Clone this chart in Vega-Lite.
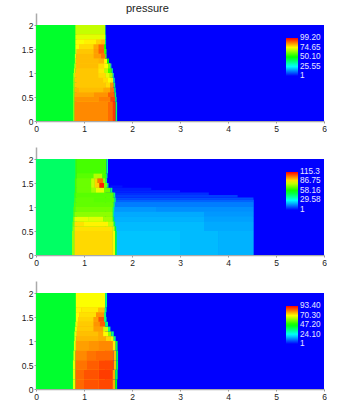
{"$schema":"https://vega.github.io/schema/vega-lite/v6.json","padding":{"left":0,"top":3,"right":0,"bottom":0},"background":"white","resolve":{"scale":{"color":"independent"},"legend":{"color":"independent"}},"config":{"view":{"stroke":null},"font":"Liberation Sans","concat":{"spacing":14},"axis":{"grid":false,"domainColor":"#aaa","domainWidth":1.5,"tickColor":"#999","tickSize":2,"labelFont":"Liberation Sans","labelFontSize":8.5,"labelColor":"#222","labelPadding":1,"labelFlush":false,"title":null},"legend":{"orient":"none","legendX":250,"legendY":25,"gradientLength":38,"gradientThickness":12,"labelFont":"Liberation Sans","labelFontSize":8.2,"labelColor":"#e8e8ff","labelOverlap":false,"labelOffset":7,"gradientStrokeWidth":0,"title":null,"padding":0,"offset":0}},"datasets":{"d":[
{"p":1,"a":0,"b":6,"c":0,"d":2,"v":1},{"p":1,"a":0,"b":0.84,"c":0,"d":2,"v":46},{"p":1,"a":0.84,"b":1.44,"c":0,"d":2,"v":80},{"p":1,"a":1.44,"b":1.55,"c":0,"d":1.2,"v":80},{"p":1,"a":1.55,"b":1.6,"c":0,"d":0.9,"v":85},
{"p":1,"a":0.78,"b":0.8,"c":0,"d":0.4,"v":70},{"p":1,"a":0.8,"b":1.5,"c":0,"d":0.4,"v":86},{"p":1,"a":1.5,"b":1.6,"c":0,"d":0.4,"v":89},{"p":1,"a":1.6,"b":1.66,"c":0,"d":0.4,"v":94},{"p":1,"a":1.66,"b":1.69,"c":0,"d":0.4,"v":40},
{"p":1,"a":0.78,"b":0.8,"c":0.4,"d":0.5,"v":70},{"p":1,"a":0.8,"b":1.3,"c":0.4,"d":0.5,"v":85},{"p":1,"a":1.3,"b":1.55,"c":0.4,"d":0.5,"v":87},{"p":1,"a":1.55,"b":1.65,"c":0.4,"d":0.5,"v":93},{"p":1,"a":1.65,"b":1.68,"c":0.4,"d":0.5,"v":40},
{"p":1,"a":0.78,"b":0.8,"c":0.5,"d":0.6,"v":70},{"p":1,"a":0.8,"b":1.2,"c":0.5,"d":0.6,"v":83},{"p":1,"a":1.2,"b":1.5,"c":0.5,"d":0.6,"v":85},{"p":1,"a":1.5,"b":1.64,"c":0.5,"d":0.6,"v":90},{"p":1,"a":1.64,"b":1.67,"c":0.5,"d":0.6,"v":40},
{"p":1,"a":0.78,"b":0.8,"c":0.6,"d":0.7,"v":70},{"p":1,"a":0.8,"b":0.9,"c":0.6,"d":0.7,"v":82},{"p":1,"a":0.9,"b":1.4,"c":0.6,"d":0.7,"v":81},{"p":1,"a":1.4,"b":1.55,"c":0.6,"d":0.7,"v":83},{"p":1,"a":1.55,"b":1.63,"c":0.6,"d":0.7,"v":88},{"p":1,"a":1.63,"b":1.66,"c":0.6,"d":0.7,"v":40},
{"p":1,"a":0.78,"b":0.8,"c":0.7,"d":0.8,"v":70},{"p":1,"a":0.8,"b":1.45,"c":0.7,"d":0.8,"v":80},{"p":1,"a":1.45,"b":1.55,"c":0.7,"d":0.8,"v":78},{"p":1,"a":1.55,"b":1.62,"c":0.7,"d":0.8,"v":85},{"p":1,"a":1.62,"b":1.65,"c":0.7,"d":0.8,"v":40},
{"p":1,"a":0.78,"b":0.8,"c":0.8,"d":0.9,"v":70},{"p":1,"a":0.8,"b":1.4,"c":0.8,"d":0.9,"v":80},{"p":1,"a":1.4,"b":1.5,"c":0.8,"d":0.9,"v":78},{"p":1,"a":1.5,"b":1.58,"c":0.8,"d":0.9,"v":74},{"p":1,"a":1.58,"b":1.61,"c":0.8,"d":0.9,"v":76},{"p":1,"a":1.61,"b":1.64,"c":0.8,"d":0.9,"v":35},
{"p":1,"a":0.78,"b":0.81,"c":0.9,"d":1,"v":70},{"p":1,"a":0.81,"b":1.3,"c":0.9,"d":1,"v":80},{"p":1,"a":1.3,"b":1.45,"c":0.9,"d":1,"v":78},{"p":1,"a":1.45,"b":1.53,"c":0.9,"d":1,"v":72},{"p":1,"a":1.53,"b":1.6,"c":0.9,"d":1,"v":66},{"p":1,"a":1.6,"b":1.62,"c":0.9,"d":1,"v":35},
{"p":1,"a":0.79,"b":0.82,"c":1,"d":1.1,"v":70},{"p":1,"a":0.82,"b":1.3,"c":1,"d":1.1,"v":80},{"p":1,"a":1.3,"b":1.42,"c":1,"d":1.1,"v":77},{"p":1,"a":1.42,"b":1.5,"c":1,"d":1.1,"v":68},{"p":1,"a":1.5,"b":1.58,"c":1,"d":1.1,"v":56},{"p":1,"a":1.58,"b":1.6,"c":1,"d":1.1,"v":35},
{"p":1,"a":0.8,"b":0.83,"c":1.1,"d":1.2,"v":70},{"p":1,"a":0.83,"b":1.3,"c":1.1,"d":1.2,"v":81},{"p":1,"a":1.3,"b":1.42,"c":1.1,"d":1.2,"v":78},{"p":1,"a":1.42,"b":1.5,"c":1.1,"d":1.2,"v":74},{"p":1,"a":1.5,"b":1.55,"c":1.1,"d":1.2,"v":62},{"p":1,"a":1.55,"b":1.57,"c":1.1,"d":1.2,"v":35},
{"p":1,"a":0.81,"b":0.83,"c":1.2,"d":1.3,"v":72},{"p":1,"a":0.83,"b":1.3,"c":1.2,"d":1.3,"v":81},{"p":1,"a":1.3,"b":1.42,"c":1.2,"d":1.3,"v":82},{"p":1,"a":1.42,"b":1.48,"c":1.2,"d":1.3,"v":75},{"p":1,"a":1.48,"b":1.52,"c":1.2,"d":1.3,"v":50},
{"p":1,"a":0.81,"b":0.84,"c":1.3,"d":1.4,"v":72},{"p":1,"a":0.84,"b":1.2,"c":1.3,"d":1.4,"v":81},{"p":1,"a":1.2,"b":1.35,"c":1.3,"d":1.4,"v":84},{"p":1,"a":1.35,"b":1.44,"c":1.3,"d":1.4,"v":88},{"p":1,"a":1.44,"b":1.47,"c":1.3,"d":1.4,"v":60},
{"p":1,"a":0.82,"b":0.85,"c":1.4,"d":1.5,"v":72},{"p":1,"a":0.85,"b":1.2,"c":1.4,"d":1.5,"v":80},{"p":1,"a":1.2,"b":1.3,"c":1.4,"d":1.5,"v":84},{"p":1,"a":1.3,"b":1.42,"c":1.4,"d":1.5,"v":90},{"p":1,"a":1.42,"b":1.47,"c":1.4,"d":1.5,"v":55},
{"p":1,"a":0.82,"b":0.9,"c":1.5,"d":1.6,"v":74},{"p":1,"a":0.9,"b":1.2,"c":1.5,"d":1.6,"v":78},{"p":1,"a":1.2,"b":1.3,"c":1.5,"d":1.6,"v":83},{"p":1,"a":1.3,"b":1.42,"c":1.5,"d":1.6,"v":89},{"p":1,"a":1.42,"b":1.46,"c":1.5,"d":1.6,"v":50},
{"p":1,"a":0.82,"b":1,"c":1.6,"d":1.7,"v":74},{"p":1,"a":1,"b":1.25,"c":1.6,"d":1.7,"v":76},{"p":1,"a":1.25,"b":1.35,"c":1.6,"d":1.7,"v":79},{"p":1,"a":1.35,"b":1.44,"c":1.6,"d":1.7,"v":81},{"p":1,"a":1.44,"b":1.46,"c":1.6,"d":1.7,"v":40},
{"p":1,"a":0.82,"b":1.44,"c":1.7,"d":1.8,"v":72},{"p":1,"a":1.44,"b":1.46,"c":1.7,"d":1.8,"v":40},
{"p":1,"a":0.82,"b":1.44,"c":1.8,"d":2,"v":69},{"p":1,"a":1.44,"b":1.45,"c":1.8,"d":2,"v":40},

{"p":2,"a":0,"b":6,"c":0,"d":2,"v":1},{"p":2,"a":0,"b":0.84,"c":0,"d":2,"v":47},{"p":2,"a":1.6,"b":4.53,"c":0,"d":1.15,"v":19},{"p":2,"a":0.84,"b":1.45,"c":0,"d":2,"v":70},{"p":2,"a":1.45,"b":1.6,"c":0,"d":1.3,"v":70},
{"p":2,"a":1.65,"b":3,"c":0,"d":0.5,"v":23},{"p":2,"a":3,"b":3.8,"c":0,"d":0.5,"v":22},{"p":2,"a":3.8,"b":4.53,"c":0,"d":0.5,"v":21},
{"p":2,"a":1.65,"b":3.5,"c":0.5,"d":0.7,"v":22},{"p":2,"a":3.5,"b":4.53,"c":0.5,"d":0.7,"v":20},
{"p":2,"a":1.65,"b":3.5,"c":0.7,"d":0.8,"v":21},{"p":2,"a":3.5,"b":4.53,"c":0.7,"d":0.8,"v":19},
{"p":2,"a":1.6,"b":3.5,"c":0.8,"d":0.9,"v":20},{"p":2,"a":3.5,"b":4.53,"c":0.8,"d":0.9,"v":18},
{"p":2,"a":1.6,"b":2.5,"c":0.9,"d":1,"v":18},{"p":2,"a":2.5,"b":4.53,"c":0.9,"d":1,"v":17},
{"p":2,"a":1.6,"b":4.53,"c":1,"d":1.1,"v":15},
{"p":2,"a":1.6,"b":4.53,"c":1.1,"d":1.15,"v":12},
{"p":2,"a":1.6,"b":4.53,"c":1.15,"d":1.2,"v":10},
{"p":2,"a":1.6,"b":4.2,"c":1.2,"d":1.25,"v":8},
{"p":2,"a":1.6,"b":3.6,"c":1.25,"d":1.3,"v":6},
{"p":2,"a":1.6,"b":3,"c":1.3,"d":1.35,"v":5},
{"p":2,"a":1.55,"b":2.4,"c":1.35,"d":1.4,"v":4},
{"p":2,"a":1.55,"b":1.8,"c":1.4,"d":1.45,"v":3},
{"p":2,"a":0.75,"b":0.8,"c":0,"d":0.5,"v":75},{"p":2,"a":0.8,"b":1.6,"c":0,"d":0.5,"v":91},{"p":2,"a":1.6,"b":1.65,"c":0,"d":0.5,"v":85},{"p":2,"a":1.65,"b":1.68,"c":0,"d":0.5,"v":55},
{"p":2,"a":0.76,"b":0.8,"c":0.5,"d":0.6,"v":75},{"p":2,"a":0.8,"b":1.6,"c":0.5,"d":0.6,"v":90},{"p":2,"a":1.6,"b":1.64,"c":0.5,"d":0.6,"v":82},{"p":2,"a":1.64,"b":1.67,"c":0.5,"d":0.6,"v":55},
{"p":2,"a":0.76,"b":0.8,"c":0.6,"d":0.7,"v":72},{"p":2,"a":0.8,"b":1,"c":0.6,"d":0.7,"v":90},{"p":2,"a":1,"b":1.5,"c":0.6,"d":0.7,"v":88},{"p":2,"a":1.5,"b":1.62,"c":0.6,"d":0.7,"v":80},{"p":2,"a":1.62,"b":1.65,"c":0.6,"d":0.7,"v":50},
{"p":2,"a":0.77,"b":0.8,"c":0.7,"d":0.8,"v":72},{"p":2,"a":0.8,"b":1.1,"c":0.7,"d":0.8,"v":84},{"p":2,"a":1.1,"b":1.4,"c":0.7,"d":0.8,"v":83},{"p":2,"a":1.4,"b":1.6,"c":0.7,"d":0.8,"v":76},{"p":2,"a":1.6,"b":1.63,"c":0.7,"d":0.8,"v":50},
{"p":2,"a":0.78,"b":0.81,"c":0.8,"d":0.9,"v":70},{"p":2,"a":0.81,"b":1.6,"c":0.8,"d":0.9,"v":74},{"p":2,"a":1.6,"b":1.62,"c":0.8,"d":0.9,"v":45},
{"p":2,"a":0.78,"b":0.82,"c":0.9,"d":1,"v":68},{"p":2,"a":0.82,"b":1.6,"c":0.9,"d":1,"v":71},{"p":2,"a":1.6,"b":1.63,"c":0.9,"d":1,"v":45},
{"p":2,"a":0.79,"b":0.82,"c":1,"d":1.1,"v":68},{"p":2,"a":0.82,"b":1.62,"c":1,"d":1.1,"v":69},{"p":2,"a":1.62,"b":1.64,"c":1,"d":1.1,"v":45},
{"p":2,"a":0.8,"b":0.83,"c":1.1,"d":1.2,"v":68},{"p":2,"a":0.83,"b":1.2,"c":1.1,"d":1.2,"v":69},{"p":2,"a":1.2,"b":1.63,"c":1.1,"d":1.2,"v":68},{"p":2,"a":1.63,"b":1.66,"c":1.1,"d":1.2,"v":45},
{"p":2,"a":0.8,"b":0.83,"c":1.2,"d":1.3,"v":66},{"p":2,"a":0.83,"b":1.62,"c":1.2,"d":1.3,"v":68},{"p":2,"a":1.62,"b":1.65,"c":1.2,"d":1.3,"v":45},
{"p":2,"a":0.81,"b":0.84,"c":1.3,"d":1.4,"v":66},{"p":2,"a":0.84,"b":1.15,"c":1.3,"d":1.4,"v":70},{"p":2,"a":1.15,"b":1.25,"c":1.3,"d":1.4,"v":76},{"p":2,"a":1.25,"b":1.42,"c":1.3,"d":1.4,"v":84},{"p":2,"a":1.42,"b":1.55,"c":1.3,"d":1.4,"v":70},{"p":2,"a":1.55,"b":1.59,"c":1.3,"d":1.4,"v":45},
{"p":2,"a":0.81,"b":0.84,"c":1.4,"d":1.5,"v":66},{"p":2,"a":0.84,"b":1.15,"c":1.4,"d":1.5,"v":70},{"p":2,"a":1.15,"b":1.22,"c":1.4,"d":1.5,"v":80},{"p":2,"a":1.22,"b":1.32,"c":1.4,"d":1.5,"v":92},{"p":2,"a":1.32,"b":1.42,"c":1.4,"d":1.5,"v":112},{"p":2,"a":1.42,"b":1.48,"c":1.4,"d":1.5,"v":72},{"p":2,"a":1.48,"b":1.51,"c":1.4,"d":1.5,"v":45},
{"p":2,"a":0.81,"b":0.84,"c":1.5,"d":1.6,"v":66},{"p":2,"a":0.84,"b":1.15,"c":1.5,"d":1.6,"v":70},{"p":2,"a":1.15,"b":1.22,"c":1.5,"d":1.6,"v":80},{"p":2,"a":1.22,"b":1.28,"c":1.5,"d":1.6,"v":92},{"p":2,"a":1.28,"b":1.4,"c":1.5,"d":1.6,"v":103},{"p":2,"a":1.4,"b":1.45,"c":1.5,"d":1.6,"v":75},{"p":2,"a":1.45,"b":1.48,"c":1.5,"d":1.6,"v":45},
{"p":2,"a":0.82,"b":0.85,"c":1.6,"d":1.7,"v":65},{"p":2,"a":0.85,"b":1.2,"c":1.6,"d":1.7,"v":68},{"p":2,"a":1.2,"b":1.38,"c":1.6,"d":1.7,"v":78},{"p":2,"a":1.38,"b":1.46,"c":1.6,"d":1.7,"v":66},{"p":2,"a":1.46,"b":1.49,"c":1.6,"d":1.7,"v":45},
{"p":2,"a":0.82,"b":0.85,"c":1.7,"d":2,"v":65},{"p":2,"a":0.85,"b":1.47,"c":1.7,"d":2,"v":66},{"p":2,"a":1.47,"b":1.5,"c":1.7,"d":2,"v":40},

{"p":3,"a":0,"b":6,"c":0,"d":2,"v":1},{"p":3,"a":0,"b":0.84,"c":0,"d":2,"v":43},{"p":3,"a":0.84,"b":1.44,"c":0,"d":2,"v":78},{"p":3,"a":1.44,"b":1.6,"c":0,"d":1.1,"v":82},
{"p":3,"a":0.77,"b":0.82,"c":0,"d":0.2,"v":68},{"p":3,"a":0.82,"b":1,"c":0,"d":0.2,"v":84},{"p":3,"a":1,"b":1.3,"c":0,"d":0.2,"v":86},{"p":3,"a":1.3,"b":1.6,"c":0,"d":0.2,"v":87},{"p":3,"a":1.6,"b":1.65,"c":0,"d":0.2,"v":78},{"p":3,"a":1.65,"b":1.69,"c":0,"d":0.2,"v":45},
{"p":3,"a":0.77,"b":0.82,"c":0.2,"d":0.4,"v":68},{"p":3,"a":0.82,"b":1,"c":0.2,"d":0.4,"v":84},{"p":3,"a":1,"b":1.3,"c":0.2,"d":0.4,"v":86},{"p":3,"a":1.3,"b":1.6,"c":0.2,"d":0.4,"v":88},{"p":3,"a":1.6,"b":1.65,"c":0.2,"d":0.4,"v":78},{"p":3,"a":1.65,"b":1.7,"c":0.2,"d":0.4,"v":40},
{"p":3,"a":0.77,"b":0.82,"c":0.4,"d":0.6,"v":68},{"p":3,"a":0.82,"b":1.05,"c":0.4,"d":0.6,"v":83},{"p":3,"a":1.05,"b":1.3,"c":0.4,"d":0.6,"v":85},{"p":3,"a":1.3,"b":1.62,"c":0.4,"d":0.6,"v":87},{"p":3,"a":1.62,"b":1.67,"c":0.4,"d":0.6,"v":76},{"p":3,"a":1.67,"b":1.71,"c":0.4,"d":0.6,"v":40},
{"p":3,"a":0.78,"b":0.82,"c":0.6,"d":0.8,"v":68},{"p":3,"a":0.82,"b":1.05,"c":0.6,"d":0.8,"v":81},{"p":3,"a":1.05,"b":1.25,"c":0.6,"d":0.8,"v":83},{"p":3,"a":1.25,"b":1.62,"c":0.6,"d":0.8,"v":84},{"p":3,"a":1.62,"b":1.67,"c":0.6,"d":0.8,"v":76},{"p":3,"a":1.67,"b":1.71,"c":0.6,"d":0.8,"v":40},
{"p":3,"a":0.79,"b":0.83,"c":0.8,"d":1,"v":68},{"p":3,"a":0.83,"b":1.1,"c":0.8,"d":1,"v":79},{"p":3,"a":1.1,"b":1.3,"c":0.8,"d":1,"v":80},{"p":3,"a":1.3,"b":1.6,"c":0.8,"d":1,"v":81},{"p":3,"a":1.6,"b":1.66,"c":0.8,"d":1,"v":72},{"p":3,"a":1.66,"b":1.7,"c":0.8,"d":1,"v":40},
{"p":3,"a":0.8,"b":0.84,"c":1,"d":1.1,"v":68},{"p":3,"a":0.84,"b":1.3,"c":1,"d":1.1,"v":77},{"p":3,"a":1.3,"b":1.45,"c":1,"d":1.1,"v":78},{"p":3,"a":1.45,"b":1.55,"c":1,"d":1.1,"v":74},{"p":3,"a":1.55,"b":1.62,"c":1,"d":1.1,"v":68},{"p":3,"a":1.62,"b":1.66,"c":1,"d":1.1,"v":35},
{"p":3,"a":0.8,"b":0.85,"c":1.1,"d":1.2,"v":68},{"p":3,"a":0.85,"b":1.3,"c":1.1,"d":1.2,"v":76},{"p":3,"a":1.3,"b":1.4,"c":1.1,"d":1.2,"v":78},{"p":3,"a":1.4,"b":1.5,"c":1.1,"d":1.2,"v":70},{"p":3,"a":1.5,"b":1.57,"c":1.1,"d":1.2,"v":60},{"p":3,"a":1.57,"b":1.62,"c":1.1,"d":1.2,"v":35},
{"p":3,"a":0.81,"b":0.86,"c":1.2,"d":1.3,"v":68},{"p":3,"a":0.86,"b":1.2,"c":1.2,"d":1.3,"v":75},{"p":3,"a":1.2,"b":1.4,"c":1.2,"d":1.3,"v":79},{"p":3,"a":1.4,"b":1.5,"c":1.2,"d":1.3,"v":66},{"p":3,"a":1.5,"b":1.55,"c":1.2,"d":1.3,"v":35},
{"p":3,"a":0.82,"b":0.87,"c":1.3,"d":1.4,"v":68},{"p":3,"a":0.87,"b":1.2,"c":1.3,"d":1.4,"v":75},{"p":3,"a":1.2,"b":1.33,"c":1.3,"d":1.4,"v":80},{"p":3,"a":1.33,"b":1.44,"c":1.3,"d":1.4,"v":85},{"p":3,"a":1.44,"b":1.5,"c":1.3,"d":1.4,"v":35},
{"p":3,"a":0.83,"b":0.88,"c":1.4,"d":1.5,"v":70},{"p":3,"a":0.88,"b":1.2,"c":1.4,"d":1.5,"v":74},{"p":3,"a":1.2,"b":1.3,"c":1.4,"d":1.5,"v":79},{"p":3,"a":1.3,"b":1.42,"c":1.4,"d":1.5,"v":86},{"p":3,"a":1.42,"b":1.47,"c":1.4,"d":1.5,"v":35},
{"p":3,"a":0.83,"b":0.9,"c":1.5,"d":1.6,"v":70},{"p":3,"a":0.9,"b":1.25,"c":1.5,"d":1.6,"v":73},{"p":3,"a":1.25,"b":1.42,"c":1.5,"d":1.6,"v":80},{"p":3,"a":1.42,"b":1.46,"c":1.5,"d":1.6,"v":35},
{"p":3,"a":0.83,"b":0.95,"c":1.6,"d":1.7,"v":71},{"p":3,"a":0.95,"b":1.3,"c":1.6,"d":1.7,"v":72},{"p":3,"a":1.3,"b":1.43,"c":1.6,"d":1.7,"v":76},{"p":3,"a":1.43,"b":1.47,"c":1.6,"d":1.7,"v":35},
{"p":3,"a":0.83,"b":1.44,"c":1.7,"d":2,"v":70},{"p":3,"a":1.44,"b":1.48,"c":1.7,"d":2,"v":35}
]},
"vconcat":[
{"width":288,"height":108,"data":{"name":"d"},"transform":[{"filter":"datum.p==1"}],"title":{"text":"pressure","anchor":"start","dx":126,"offset":-1,"fontSize":11,"fontWeight":"normal","font":"Liberation Sans","color":"#222"},"mark":{"type":"rect"},"encoding":{"x":{"field":"a","type":"quantitative","scale":{"domain":[0,6],"nice":false},"axis":{"values":[0,1,2,3,4,5,6],"format":"d"}},"x2":{"field":"b"},"y":{"field":"c","type":"quantitative","scale":{"domain":[0,2.25],"nice":false},"axis":{"values":[0,0.5,1,1.5,2],"format":"~g","minExtent":36}},"y2":{"field":"d"},"color":{"field":"v","type":"quantitative","scale":{"domain":[1,99.2],"range":["#0000ff","#00ffff","#00ff00","#ffff00","#ff0000"],"interpolate":"rgb"},"legend":{"values":[1,25.55,50.1,74.65,99.2],"labelExpr":"datum.value==1?'1':format(datum.value,'.2f')","encode":{"labels":{"update":{"baseline":{"value":"middle"}}}}}}}},
{"width":288,"height":108,"data":{"name":"d"},"transform":[{"filter":"datum.p==2"}],"mark":{"type":"rect"},"encoding":{"x":{"field":"a","type":"quantitative","scale":{"domain":[0,6],"nice":false},"axis":{"values":[0,1,2,3,4,5,6],"format":"d"}},"x2":{"field":"b"},"y":{"field":"c","type":"quantitative","scale":{"domain":[0,2.25],"nice":false},"axis":{"values":[0,0.5,1,1.5,2],"format":"~g","minExtent":36}},"y2":{"field":"d"},"color":{"field":"v","type":"quantitative","scale":{"domain":[1,115.3],"range":["#0000ff","#00ffff","#00ff00","#ffff00","#ff0000"],"interpolate":"rgb"},"legend":{"values":[1,29.58,58.16,86.75,115.3],"labelExpr":"datum.value==1?'1':datum.value==115.3?'115.3':format(datum.value,'.2f')","encode":{"labels":{"update":{"baseline":{"value":"middle"}}}}}}}},
{"width":288,"height":108,"data":{"name":"d"},"transform":[{"filter":"datum.p==3"}],"mark":{"type":"rect"},"encoding":{"x":{"field":"a","type":"quantitative","scale":{"domain":[0,6],"nice":false},"axis":{"values":[0,1,2,3,4,5,6],"format":"d"}},"x2":{"field":"b"},"y":{"field":"c","type":"quantitative","scale":{"domain":[0,2.25],"nice":false},"axis":{"values":[0,0.5,1,1.5,2],"format":"~g","minExtent":36}},"y2":{"field":"d"},"color":{"field":"v","type":"quantitative","scale":{"domain":[1,93.4],"range":["#0000ff","#00ffff","#00ff00","#ffff00","#ff0000"],"interpolate":"rgb"},"legend":{"values":[1,24.1,47.2,70.3,93.4],"labelExpr":"datum.value==1?'1':format(datum.value,'.2f')","encode":{"labels":{"update":{"baseline":{"value":"middle"}}}}}}}}
]}
